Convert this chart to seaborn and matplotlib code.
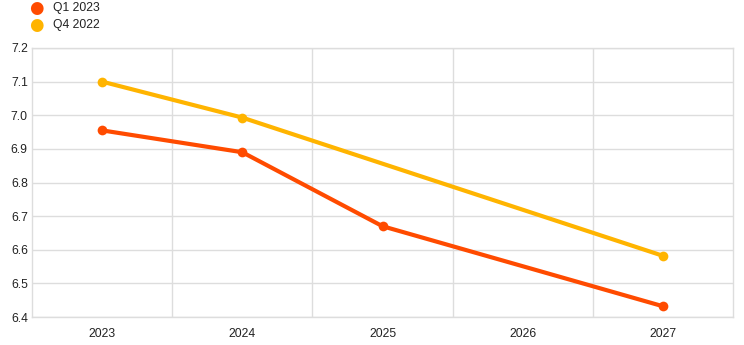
import matplotlib
matplotlib.use("Agg")
import matplotlib.pyplot as plt
import seaborn as sns
import numpy as np
import pandas as pd

years = ["2023", "2024", "2025", "2026", "2027"]
q1_2023 = [6.955, 6.89, 6.67, np.nan, 6.432]
q4_2022 = [7.10, 6.993, np.nan, np.nan, 6.582]
series_names = ["Q1 2023", "Q4 2022"]
colors = ["#FF4B00", "#FFB400"]
yticks = [6.4, 6.5, 6.6, 6.7, 6.8, 6.9, 7.0, 7.1, 7.2]

sns.set_theme(style="white")
plt.rcParams['font.family'] = ['Liberation Sans', 'DejaVu Sans']

rows = []
for name, vals in zip(series_names, [q1_2023, q4_2022]):
    for i, v in enumerate(vals):
        if not np.isnan(v):
            rows.append({"x": i, "value": v, "series": name})
df = pd.DataFrame(rows)

fig = plt.figure(figsize=(7.44, 3.45), dpi=100)
ax = fig.add_axes([32/744, 1-317/345, 701/744, 269/345])

sns.lineplot(data=df, x="x", y="value", hue="series", hue_order=series_names,
             palette=colors, marker="o", markersize=7, markeredgewidth=0,
             linewidth=3, ax=ax, legend=False, zorder=3)

fs = 8.7
ax.set_xlim(-0.5, 4.5)
ax.set_ylim(6.4, 7.2)
ax.set_yticks(yticks)
ax.set_yticklabels([f"{t:.1f}" for t in yticks], fontsize=fs, color="#222222")
ax.set_xticks(range(len(years)))
ax.set_xticklabels(years, fontsize=fs, color="#222222")
ax.set_xticks([0.5, 1.5, 2.5, 3.5], minor=True)
ax.grid(False)
ax.yaxis.grid(True, color="#dddddd", linewidth=1)
ax.xaxis.grid(True, which="minor", color="#dddddd", linewidth=1)
ax.tick_params(axis="both", which="both", length=0)
ax.tick_params(axis="y", pad=3)
ax.tick_params(axis="x", pad=8)
for s in ax.spines.values():
    s.set_color("#dddddd")
    s.set_linewidth(1)
ax.set_xlabel("")
ax.set_ylabel("")

for i, (name, c) in enumerate(zip(series_names, colors)):
    yy = 1 - (8 + 17*i)/345
    fig.text(36/744, yy, "●", color=c, fontsize=12, ha="center", va="center",
             family=["DejaVu Sans"])
    fig.text(53/744, yy, name, color="#222222", fontsize=fs, ha="left", va="center")

fig.savefig("out.png", dpi=100)
